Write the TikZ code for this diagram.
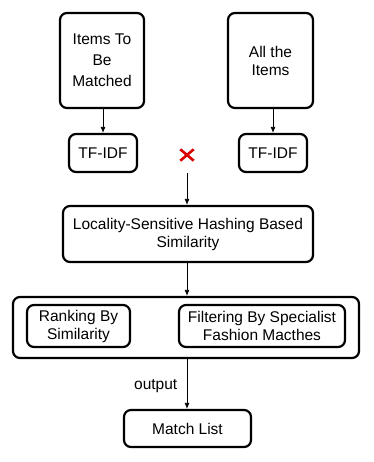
\documentclass[tikz,border=0pt]{standalone}
\usepackage{fontspec}
\setmainfont{Liberation Sans}
\usetikzlibrary{arrows.meta}
\begin{document}
\begin{tikzpicture}[x=1pt,y=-1pt,line join=round,>={Latex[length=6pt,width=5pt]},
  font=\fontsize{15.5}{18}\selectfont,
  box/.style={draw,line width=2.2pt,rounded corners=7pt,align=center,inner sep=0pt},
  link/.style={->,line width=0.8pt}]
\useasboundingbox (0,0) rectangle (373,462);
% inputs
\node[box,minimum width=84,minimum height=95] (items) at (102,60.5) {Items To\\[3pt]Be\\[3pt]Matched};
\node[box,minimum width=85,minimum height=95] (all) at (270.5,60.5) {All the\\Items};
\node[box,minimum width=68,minimum height=38] (tfa) at (103,153) {TF-IDF};
\node[box,minimum width=68,minimum height=38] (tfb) at (273,153) {TF-IDF};
\node[minimum width=13,minimum height=11,inner sep=0pt] (xmark) at (187,155) {};
\draw[red!85!black,line width=2.6pt] (xmark.north west) -- (xmark.south east)
  (xmark.north east) -- (xmark.south west);
\coordinate (join) at (187,173);
% similarity
\node[box,minimum width=250,minimum height=56] (lsh) at (188,234) {Locality-Sensitive Hashing Based\\Similarity};
\node[box,minimum width=346,minimum height=61] (post) at (186,327.5) {};
\node[box,minimum width=103,minimum height=42] (rank) at (78.5,326) {Ranking By\\Similarity};
\node[box,minimum width=166,minimum height=42] (filt) at (262,326) {Filtering By Specialist\\Fashion Macthes};
\node[box,minimum width=127,minimum height=37] (match) at (187.5,428.5) {Match List};
% arrows
\draw[link] (items.south-|tfa) -- (tfa);
\draw[link] (all.south-|tfb) -- (tfb);
\draw[link] (join) -- (lsh.north-|join);
\draw[link] (lsh.south-|join) -- (post.north-|join);
\draw[link] (post.south-|join) -- node[pos=0.55,left=6pt]{output} (match.north-|join);
\end{tikzpicture}
\end{document}
